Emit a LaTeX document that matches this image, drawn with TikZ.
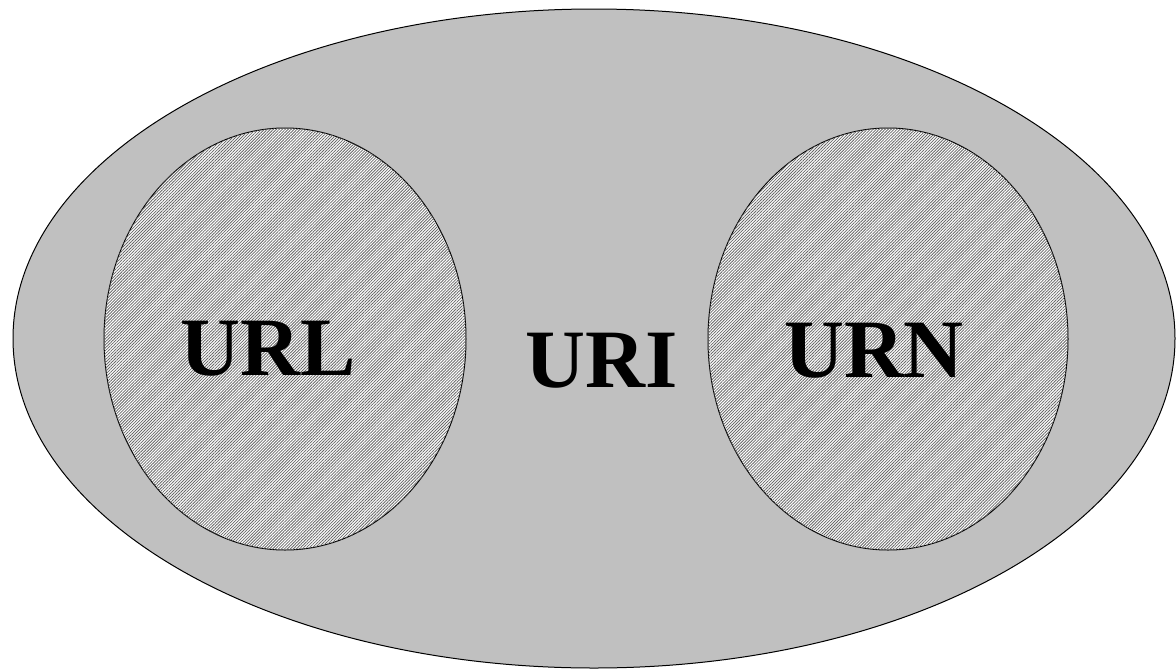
\documentclass[tikz,border=0pt]{standalone}
\usepackage{fontspec}
\setmainfont{Liberation Serif}
\usetikzlibrary{patterns.meta}
\begin{document}
\begin{tikzpicture}[x=1pt,y=-1pt,
  outerset/.style={draw=black,line width=1pt,fill={rgb,255:red,192;green,192;blue,192}},
  innerset/.style={draw=black,line width=1pt,fill=white,
    postaction={pattern={Lines[angle=45,distance=2.1pt,line width=0.8pt]},pattern color={rgb,255:red,105;green,105;blue,105}}},
  setlabel/.style={font=\fontsize{83}{90}\selectfont\bfseries,inner sep=0pt,anchor=base}]
\useasboundingbox (0,0) rectangle (1176,670);
\path[outerset] (594,338.5) ellipse [x radius=581, y radius=329.5];
\path[innerset] (285,339) ellipse [x radius=181, y radius=211];
\path[innerset] (888,339) ellipse [x radius=180, y radius=211];
\node[setlabel] (url) at (268,375) {URL};
\node[setlabel] (uri) at (602,387) {URI};
\node[setlabel] (urn) at (874,377) {URN};
\end{tikzpicture}
\end{document}
